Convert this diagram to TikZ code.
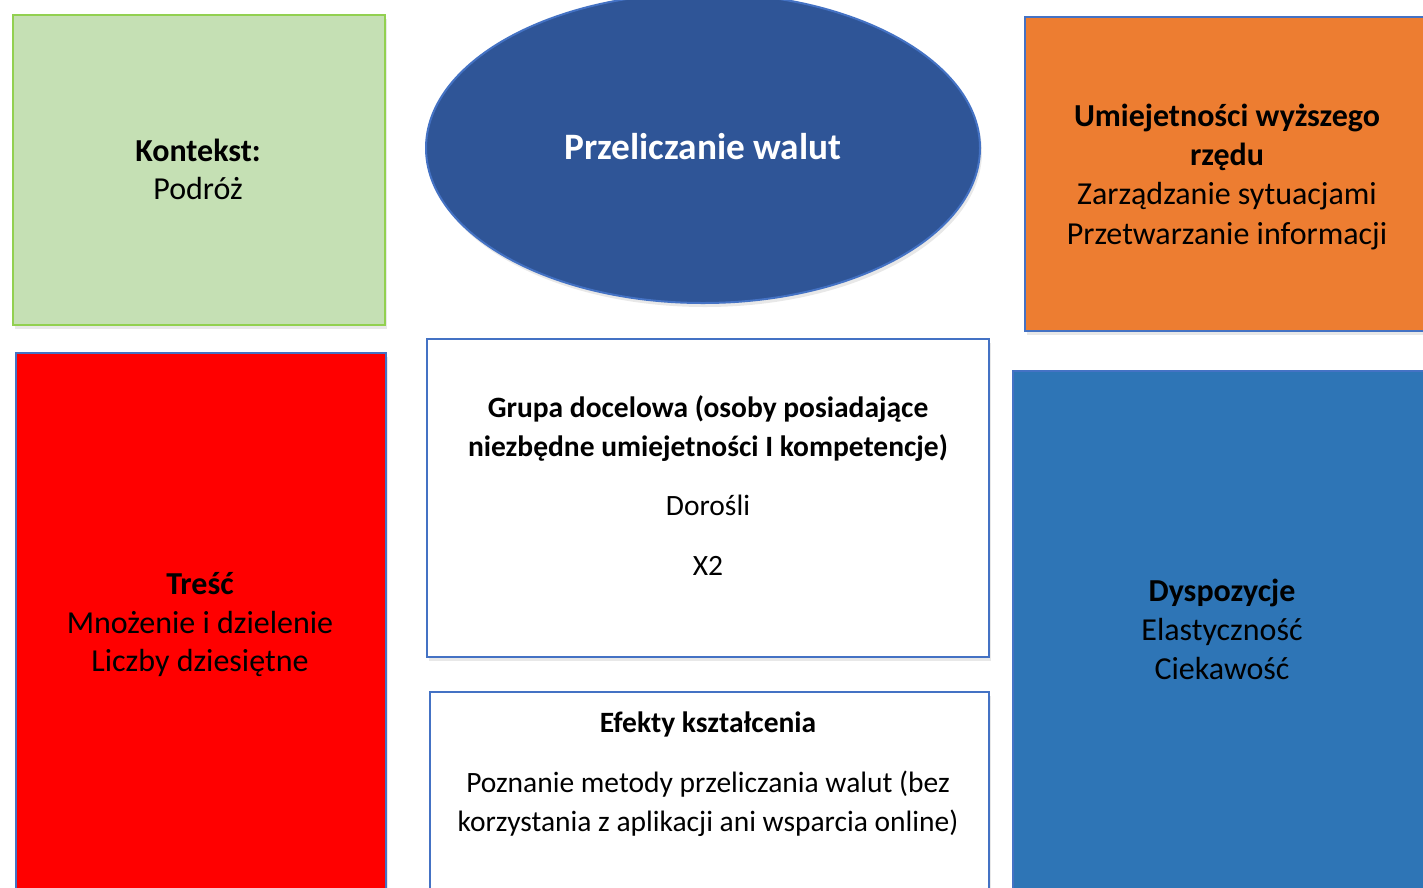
\documentclass[tikz,border=0pt]{standalone}
\usepackage{fontspec}
\setmainfont{Carlito}
\usetikzlibrary{shapes.geometric,shadows}
\definecolor{bordblue}{HTML}{4472C4}
\definecolor{greenfill}{HTML}{C5E0B4}
\definecolor{greenbord}{HTML}{92D050}
\definecolor{ellfill}{HTML}{2F5597}
\definecolor{orfill}{HTML}{ED7D31}
\definecolor{bluefill}{HTML}{2E75B6}
\definecolor{redfill}{HTML}{FF0000}
\tikzset{
  box/.style={rectangle, anchor=north west, inner sep=0pt, line width=2pt, draw=bordblue,
    drop shadow={opacity=0.18, shadow xshift=2pt, shadow yshift=-4pt}},
  txt/.style={anchor=base, inner sep=0pt, font=\fontsize{32}{38}\selectfont},
  btxt/.style={txt, font=\fontsize{32}{38}\selectfont\bfseries},
  mtxt/.style={anchor=base, inner sep=0pt, font=\fontsize{29.5}{35}\selectfont},
  mbtxt/.style={mtxt, font=\fontsize{29.5}{35}\selectfont\bfseries},
}
\begin{document}
\begin{tikzpicture}[x=1pt,y=-1pt]
\useasboundingbox (0,0) rectangle (1423,887);
\clip (0,0) rectangle (1423,887);
\fill[white] (0,0) rectangle (1423,887);
% boxes
\node[box, fill=greenfill, draw=greenbord, minimum width=372pt, minimum height=310pt] (ctx) at (12,14) {};
\node[box, fill=redfill, minimum width=370pt, minimum height=560pt] (tre) at (15,352) {};
\node[ellipse, inner sep=0pt, line width=2pt, draw=bordblue, fill=ellfill, minimum width=554pt, minimum height=310pt,
  drop shadow={opacity=0.18, shadow xshift=2pt, shadow yshift=-4pt}] (ell) at (703,148) {};
\node[box, fill=orfill, minimum width=420pt, minimum height=314pt] (hos) at (1024,16) {};
\node[box, fill=white, minimum width=562pt, minimum height=318pt] (grp) at (426,338) {};
\node[box, fill=white, minimum width=559pt, minimum height=230pt] (efk) at (429,691) {};
\node[box, fill=bluefill, minimum width=430pt, minimum height=540pt] (dys) at (1012,370) {};
% texts
\node[btxt] (t1) at (198,161) {Kontekst:};
\node[txt] (t2) at (198,199) {Podróż};
\node[txt, font=\fontsize{37.3}{42}\selectfont\bfseries, text=white] (t3) at (703,159) {Przeliczanie walut};
\node[btxt] (t4) at (1227,126) {Umiejetności wyższego};
\node[btxt] (t5) at (1227,165) {rzędu};
\node[txt] (t6) at (1227,204) {Zarządzanie sytuacjami};
\node[txt] (t7) at (1227,244) {Przetwarzanie informacji};
\node[btxt] (t8) at (200,594) {Treść};
\node[txt] (t9) at (200,633) {Mnożenie i dzielenie};
\node[txt] (t10) at (200,671) {Liczby dziesiętne};
\node[mbtxt] (t11) at (708,417) {Grupa docelowa (osoby posiadające};
\node[mbtxt] (t12) at (708,456) {niezbędne umiejetności I kompetencje)};
\node[mtxt] (t13) at (708,515) {Dorośli};
\node[mtxt] (t14) at (708,575) {X2};
\node[mbtxt] (t15) at (708,732) {Efekty kształcenia};
\node[mtxt] (t16) at (708,792) {Poznanie metody przeliczania walut (bez};
\node[mtxt] (t17) at (708,831) {korzystania z aplikacji ani wsparcia online)};
\node[btxt] (t18) at (1222,601) {Dyspozycje};
\node[txt] (t19) at (1222,640) {Elastyczność};
\node[txt] (t20) at (1222,679) {Ciekawość};
\end{tikzpicture}
\end{document}
